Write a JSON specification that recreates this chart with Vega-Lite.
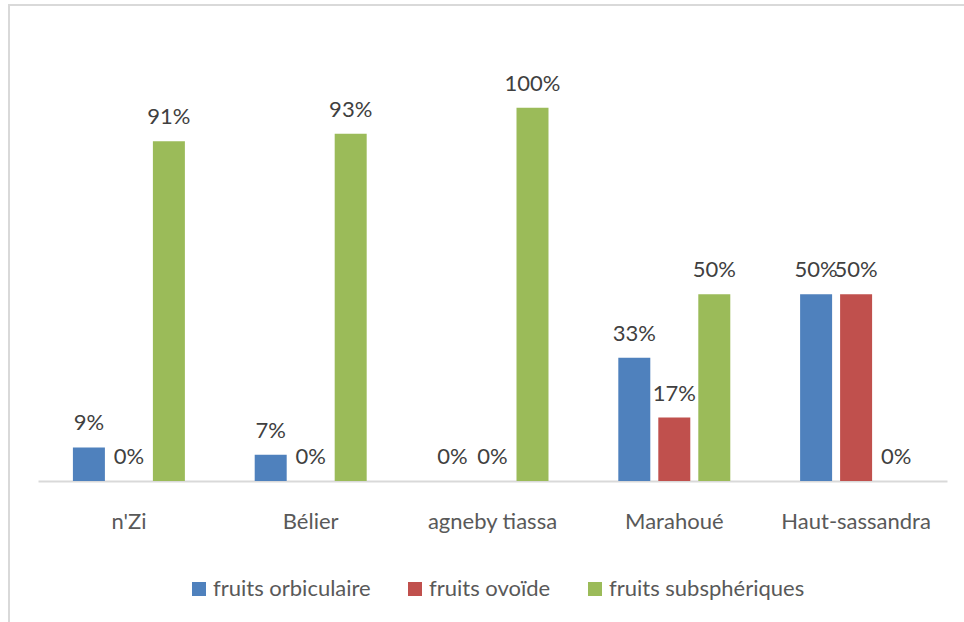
{
  "$schema": "https://vega.github.io/schema/vega-lite/v6.json",
  "width": 960,
  "height": 620,
  "autosize": {"type": "none"},
  "padding": {"left": 9, "top": 5, "right": 0, "bottom": 0},
  "background": "white",
  "config": {
    "view": {"stroke": "#d9d9d9", "strokeWidth": 2},
    "font": "Lato"
  },
  "data": {
    "values": [
      {"region": "n'Zi", "type": "fruits orbiculaire", "value": 0.09, "label": "9%"},
      {"region": "n'Zi", "type": "fruits ovoïde", "value": 0.0, "label": "0%"},
      {"region": "n'Zi", "type": "fruits subsphériques", "value": 0.91, "label": "91%"},
      {"region": "Bélier", "type": "fruits orbiculaire", "value": 0.07, "label": "7%"},
      {"region": "Bélier", "type": "fruits ovoïde", "value": 0.0, "label": "0%"},
      {"region": "Bélier", "type": "fruits subsphériques", "value": 0.93, "label": "93%"},
      {"region": "agneby tiassa", "type": "fruits orbiculaire", "value": 0.0, "label": "0%"},
      {"region": "agneby tiassa", "type": "fruits ovoïde", "value": 0.0, "label": "0%"},
      {"region": "agneby tiassa", "type": "fruits subsphériques", "value": 1.0, "label": "100%"},
      {"region": "Marahoué", "type": "fruits orbiculaire", "value": 0.33, "label": "33%"},
      {"region": "Marahoué", "type": "fruits ovoïde", "value": 0.17, "label": "17%"},
      {"region": "Marahoué", "type": "fruits subsphériques", "value": 0.5, "label": "50%"},
      {"region": "Haut-sassandra", "type": "fruits orbiculaire", "value": 0.5, "label": "50%"},
      {"region": "Haut-sassandra", "type": "fruits ovoïde", "value": 0.5, "label": "50%"},
      {"region": "Haut-sassandra", "type": "fruits subsphériques", "value": 0.0, "label": "0%"}
    ]
  },
  "encoding": {
    "x": {
      "field": "region",
      "type": "nominal",
      "sort": null,
      "scale": {"range": [29, 938], "paddingInner": 0.34, "paddingOuter": 0.17},
      "axis": {
        "title": null,
        "orient": "bottom",
        "offset": -144,
        "labelAngle": 0,
        "ticks": false,
        "domainColor": "#d9d9d9",
        "domainWidth": 2,
        "labelColor": "#595959",
        "labelFontSize": 22,
        "labelBaseline": "alphabetic",
        "labelPadding": 47,
        "labelLimit": 300,
        "labelFont": "Lato"
      }
    },
    "xOffset": {
      "field": "type",
      "type": "nominal",
      "sort": ["fruits orbiculaire", "fruits ovoïde", "fruits subsphériques"],
      "scale": {"paddingInner": 0.2, "paddingOuter": 0.1}
    },
    "y": {
      "field": "value",
      "type": "quantitative",
      "scale": {"domain": [0, 1.2], "range": [476, 28], "nice": false},
      "axis": null
    }
  },
  "layer": [
    {
      "mark": {"type": "bar"},
      "encoding": {
        "color": {
          "field": "type",
          "type": "nominal",
          "sort": ["fruits orbiculaire", "fruits ovoïde", "fruits subsphériques"],
          "scale": {
            "domain": ["fruits orbiculaire", "fruits ovoïde", "fruits subsphériques"],
            "range": ["#4F81BD", "#C0504D", "#9BBB59"]
          },
          "legend": {
            "title": null,
            "orient": "none",
            "direction": "horizontal",
            "legendX": 179,
            "legendY": 573,
            "symbolType": "square",
            "symbolSize": 196,
            "symbolStrokeWidth": 0,
            "labelFontSize": 22,
            "labelColor": "#595959",
            "labelFont": "Lato",
            "labelOffset": 3,
            "labelLimit": 400,
            "columnPadding": 33
          }
        }
      }
    },
    {
      "mark": {"type": "text", "baseline": "alphabetic", "dy": -17, "fontSize": 22, "color": "#404040", "font": "Lato"},
      "encoding": {
        "text": {"field": "label"}
      }
    }
  ]
}
